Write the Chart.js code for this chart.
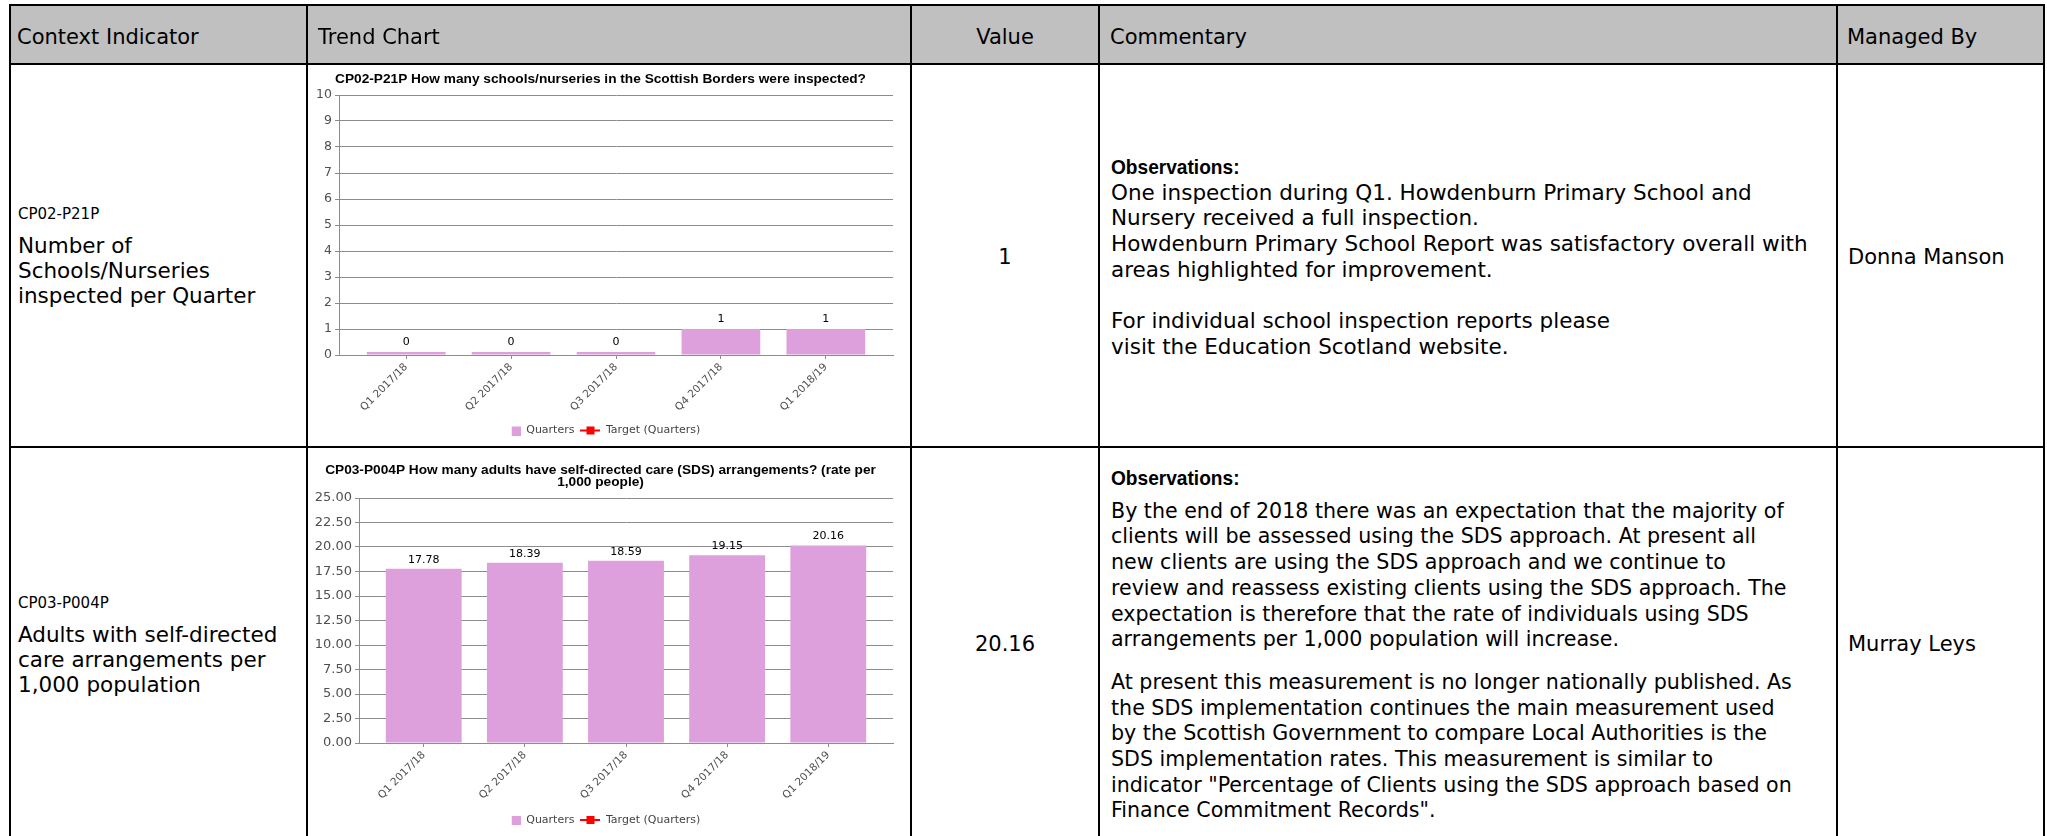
<!DOCTYPE html>
<html>
<head>
<meta charset="utf-8">
<script src="https://cdn.jsdelivr.net/npm/chart.js@4.4.0/dist/chart.umd.min.js"></script>
<style>
    body {
        margin: 0;
        width: 2047px;
        height: 836px;
        overflow: hidden;
        position: relative;
        background: #fff;
        color: #000;
        font-family: "DejaVu Sans", Verdana, sans-serif;
    }
    .line { position: absolute; background: #000; z-index: 5; }
    .header { position: absolute; left: 9px; top: 4px; width: 2036px; height: 61px; background: #c0c0c0; }
    .htext { position: absolute; top: 9px; line-height: 57px; font-size: 21px; white-space: nowrap; z-index: 6; }
    .txt { position: absolute; white-space: nowrap; z-index: 6; }
    .code { font-size: 15px; line-height: 25px; margin-bottom: 6px; }
    .name { font-size: 21.5px; line-height: 25px; }
    .comment { line-height: 25.7px; }
    .comment b {
        display: block;
        font-family: "Liberation Sans", Arial, sans-serif;
        font-size: 21px;
        transform: scaleX(0.91);
        transform-origin: left center;
    }
    .center { text-align: center; font-size: 21px; line-height: 25px; }
    canvas { position: absolute; }
</style>
</head>
<body>
<div class="header"></div>

<!-- grid lines of the table -->
<div class="line" style="left:9px;top:4px;width:2036px;height:2px"></div>
<div class="line" style="left:9px;top:63px;width:2036px;height:2px"></div>
<div class="line" style="left:9px;top:446px;width:2036px;height:2px"></div>
<div class="line" style="left:9px;top:4px;width:2px;height:840px"></div>
<div class="line" style="left:306px;top:4px;width:2px;height:840px"></div>
<div class="line" style="left:910px;top:4px;width:2px;height:840px"></div>
<div class="line" style="left:1098px;top:4px;width:2px;height:840px"></div>
<div class="line" style="left:1836px;top:4px;width:2px;height:840px"></div>
<div class="line" style="left:2043px;top:4px;width:2px;height:840px"></div>

<div class="htext" style="left:17px">Context Indicator</div>
<div class="htext" style="left:318px">Trend Chart</div>
<div class="htext" style="left:912px;width:186px;text-align:center">Value</div>
<div class="htext" style="left:1110px">Commentary</div>
<div class="htext" style="left:1847px">Managed By</div>

<!-- row 1 -->
<div class="txt" style="left:18px;top:202px">
    <div class="code">CP02-P21P</div>
    <div class="name">Number of<br>Schools/Nurseries<br>inspected per Quarter</div>
</div>
<canvas id="chart_inspected" width="602" height="381" style="left:308px;top:65px"></canvas>
<div class="txt center" style="left:912px;width:186px;top:245px">1</div>
<div class="txt comment" style="left:1111px;top:154px;font-size:21.5px">
    <b>Observations:</b>
    One inspection during Q1. Howdenburn Primary School and<br>
    Nursery received a full inspection.<br>
    Howdenburn Primary School Report was satisfactory overall with<br>
    areas highlighted for improvement.<br>
    <br>
    For individual school inspection reports please<br>
    visit the Education Scotland website.
</div>
<div class="txt center" style="left:1848px;top:245px;text-align:left">Donna Manson</div>

<!-- row 2 -->
<div class="txt" style="left:18px;top:591px">
    <div class="code">CP03-P004P</div>
    <div class="name">Adults with self-directed<br>care arrangements per<br>1,000 population</div>
</div>
<canvas id="chart_sds" width="602" height="391" style="left:308px;top:448px"></canvas>
<div class="txt center" style="left:912px;width:186px;top:632px">20.16</div>
<div class="txt comment" style="left:1111px;top:465px;font-size:20.6px">
    <b style="margin-bottom:8px">Observations:</b>
    By the end of 2018 there was an expectation that the majority of<br>
    clients will be assessed using the SDS approach. At present all<br>
    new clients are using the SDS approach and we continue to<br>
    review and reassess existing clients using the SDS approach. The<br>
    expectation is therefore that the rate of individuals using SDS<br>
    arrangements per 1,000 population will increase.
    <div style="margin-top:17px">
    At present this measurement is no longer nationally published. As<br>
    the SDS implementation continues the main measurement used<br>
    by the Scottish Government to compare Local Authorities is the<br>
    SDS implementation rates. This measurement is similar to<br>
    indicator "Percentage of Clients using the SDS approach based on<br>
    Finance Commitment Records".
    </div>
</div>
<div class="txt center" style="left:1848px;top:632px;text-align:left">Murray Leys</div>

<script>
// quarters shown on both charts
const categories = ['Q1 2017/18', 'Q2 2017/18', 'Q3 2017/18', 'Q4 2017/18', 'Q1 2018/19']
// schools/nurseries inspected each quarter
const inspectedValues = [0, 0, 0, 1, 1]
// adults with SDS arrangements per 1,000 people
const sdsValues = [17.78, 18.39, 18.59, 19.15, 20.16]
// no target figures were set
const targetValues = [null, null, null, null, null]

const barColor = '#dda0dd'
const gridColor = '#8c8c8c'
const tickColor = '#505050'

// little pictures for the legend
function squareIcon() {
    let c = document.createElement('canvas')
    c.width = 20
    c.height = 10
    let g = c.getContext('2d')
    g.fillStyle = barColor
    g.fillRect(11, 1, 9, 9)
    return c
}
function targetIcon() {
    let c = document.createElement('canvas')
    c.width = 20
    c.height = 10
    let g = c.getContext('2d')
    g.fillStyle = '#ff0000'
    g.fillRect(0, 4, 20, 2)
    g.fillRect(6, 1, 8, 8)
    return c
}

// write the value above each bar
const valueLabels = {
    id: 'valueLabels',
    afterDatasetsDraw(chart, args, opts) {
        const ctx = chart.ctx
        const meta = chart.getDatasetMeta(0)
        ctx.save()
        ctx.font = '11px "DejaVu Sans", sans-serif'
        ctx.fillStyle = '#000'
        ctx.textAlign = 'center'
        ctx.textBaseline = 'middle'
        meta.data.forEach((bar, i) => {
            let v = chart.data.datasets[0].data[i].y
            ctx.fillText(v.toFixed(opts.digits), bar.x, bar.y - opts.offset)
        })
        ctx.restore()
    }
}

function drawChart(id, values, opt) {
    const ctx = document.getElementById(id).getContext('2d')
    const chartData = {
        datasets: [{
            type: 'bar',
            label: 'Quarters',
            data: values.map((v, i) => ({ x: i, y: v })),
            backgroundColor: barColor,
            barPercentage: 1,
            categoryPercentage: 0.75,
            minBarLength: opt.minBar
        }, {
            type: 'line',
            label: 'Target (Quarters)',
            data: targetValues.map((v, i) => ({ x: i, y: v })),
            borderColor: '#ff0000',
            backgroundColor: '#ff0000'
        }]
    }
    const icons = [squareIcon(), targetIcon()]

    const chartOptions = {
        responsive: false,
        animation: false,
        devicePixelRatio: 1,
        layout: { padding: { top: opt.padTop, right: 17, bottom: opt.padBottom, left: 0 } },
        scales: {
            x: {
                type: 'linear',
                offset: false,
                min: -0.64,
                max: 4.64,
                grid: { offset: false, drawOnChartArea: false, tickLength: 4, color: gridColor },
                border: { color: gridColor },
                ticks: {
                    stepSize: 1,
                    includeBounds: false,
                    autoSkip: false,
                    minRotation: 45,
                    maxRotation: 45,
                    padding: 2,
                    color: tickColor,
                    font: { family: 'DejaVu Sans', size: 10.5 },
                    callback: v => categories[v] ?? ''
                },
                afterFit: s => { s.height = opt.xHeight }
            },
            y: {
                min: opt.yMin,
                max: opt.yMax,
                grid: { tickLength: 4, color: gridColor },
                border: { color: gridColor },
                ticks: {
                    stepSize: opt.yStep,
                    padding: 3,
                    color: tickColor,
                    font: { family: 'DejaVu Sans', size: opt.yFont },
                    callback: v => v.toFixed(opt.digits)
                },
                afterFit: s => { s.width = opt.yWidth }
            }
        },
        plugins: {
            title: {
                display: true,
                text: opt.title,
                color: '#000',
                font: { family: 'Liberation Sans', weight: 'bold', size: 13.7, lineHeight: '12px' },
                padding: { top: 0, bottom: opt.titleGap }
            },
            legend: {
                position: 'bottom',
                labels: {
                    usePointStyle: true,
                    pointStyleWidth: 20,
                    padding: 6,
                    color: '#444',
                    font: { family: 'DejaVu Sans', size: 11 },
                    generateLabels: chart => chart.data.datasets.map((ds, i) => ({
                        text: ds.label,
                        pointStyle: icons[i],
                        fillStyle: ds.backgroundColor,
                        strokeStyle: ds.backgroundColor,
                        lineWidth: 0,
                        fontColor: '#444',
                        hidden: false,
                        datasetIndex: i
                    }))
                }
            },
            tooltip: { enabled: false },
            valueLabels: { digits: opt.digits, offset: opt.labelOffset }
        }
    }

    return new Chart(ctx, {
        data: chartData,
        options: chartOptions,
        plugins: [valueLabels]
    })
}

drawChart('chart_inspected', inspectedValues, {
    title: 'CP02-P21P How many schools/nurseries in the Scottish Borders were inspected?',
    yMin: 0, yMax: 10, yStep: 1, digits: 0, yFont: 12.5,
    yWidth: 31, xHeight: 64, padTop: 8, titleGap: 10, padBottom: 0,
    labelOffset: 10, minBar: 3
})

drawChart('chart_sds', sdsValues, {
    title: ['CP03-P004P How many adults have self-directed care (SDS) arrangements? (rate per', '1,000 people)'],
    yMin: 0, yMax: 25, yStep: 2.5, digits: 2, yFont: 13,
    yWidth: 51, xHeight: 65.5, padTop: 16, titleGap: 10, padBottom: 3.5,
    labelOffset: 9, minBar: 0
})
</script>
</body>
</html>
